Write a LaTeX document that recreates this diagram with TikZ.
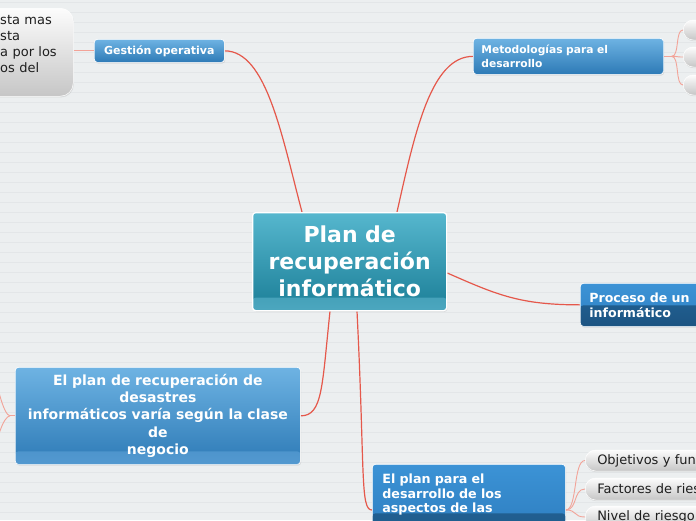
\documentclass[tikz,border=0pt]{standalone}
\usepackage{fontspec}
\setmainfont{DejaVu Sans}
\usetikzlibrary{calc,shadows}
\definecolor{bgc}{HTML}{ECEFF0}
\definecolor{bgl}{HTML}{E3E6E8}
\definecolor{conn}{HTML}{E5584B}
\definecolor{subc}{HTML}{F2A398}
\definecolor{tealtop}{HTML}{56B7CE}
\definecolor{tealbot}{HTML}{1B7E97}
\definecolor{tealband}{HTML}{4CA7BF}
\definecolor{bluetop}{HTML}{6EB3E3}
\definecolor{bluebot}{HTML}{2D7AB6}
\definecolor{blueband}{HTML}{5399D0}
\definecolor{brtop}{HTML}{3C93D6}
\definecolor{brmid}{HTML}{2F80C2}
\definecolor{drtop}{HTML}{24669A}
\definecolor{drbot}{HTML}{1C5482}
\definecolor{greytop}{HTML}{FCFCFC}
\definecolor{greybot}{HTML}{C6C6C6}
\definecolor{ink}{HTML}{1E1E1E}
\pgfdeclarelayer{back}
\pgfdeclarelayer{mid}
\pgfsetlayers{back,mid,main}
\begin{document}
\begin{tikzpicture}[x=1pt,y=-1pt,
  box/.style={draw=white, line width=0.7pt, rounded corners=3pt, anchor=north west,
    text=white, inner sep=0pt,
    drop shadow={opacity=0.18, shadow xshift=0.8pt, shadow yshift=-1.2pt}},
  bluebox/.style={box, top color=bluetop, bottom color=bluebot},
  glossbox/.style={box, top color=brtop, bottom color=brmid},
  greybox/.style={draw=white, line width=0.5pt, anchor=west, top color=greytop, bottom color=greybot,
    text=ink, inner sep=0pt,
    drop shadow={opacity=0.18, shadow xshift=0.6pt, shadow yshift=-1.2pt}},
  mainline/.style={conn, line width=1.2pt},
  subline/.style={subc, line width=0.9pt}]
\useasboundingbox (0,0) rectangle (696,520);
\begin{pgfonlayer}{back}
\fill[bgc] (0,0) rectangle (696,520);
\foreach \yy in {2,12,...,512} \draw[bgl, line width=0.6pt] (0,\yy) -- (696,\yy);
\end{pgfonlayer}

% central
\node[box, line width=1.3pt, minimum width=194pt, minimum height=98pt, text width=194pt, align=center,
  top color=tealtop, bottom color=tealbot,
  path picture={\shade[top color=tealbot, bottom color=tealband]
    ([yshift=13pt]path picture bounding box.south west) rectangle (path picture bounding box.south east);},
  font=\fontsize{22}{27}\selectfont\bfseries] (c) at (252,212) {Plan de~\\recuperación~\\informático};

% Gestion operativa
\node[bluebox, minimum width=130pt, minimum height=23pt, text width=130pt, align=center,
  font=\fontsize{11}{13}\selectfont\bfseries] (g) at (94,39) {Gestión operativa};

% grey box left (cut)
\node[greybox, rounded corners=13pt, anchor=north west, minimum width=143pt, minimum height=88pt,
  text width=143pt, align=left, font=\fontsize{13}{16}\selectfont] (gl) at (-70,8)
  {\leftskip=70pt sta mas\\sta\\a por los\\os del\\\mbox{}};

% Metodologias
\node[bluebox, minimum width=190pt, minimum height=36pt, text width=174pt, inner xsep=8pt, align=left,
  font=\fontsize{10.7}{13.4}\selectfont\bfseries] (m) at (473,38) {Metodologías para el\\desarrollo};

% circles at right
\node[greybox, rounded corners=10pt, minimum width=40pt, minimum height=20pt] (k1) at (683,30) {};
\node[greybox, rounded corners=10pt, minimum width=40pt, minimum height=20pt] (k2) at (683,57) {};
\node[greybox, rounded corners=10pt, minimum width=40pt, minimum height=20pt] (k3) at (683,85) {};

% Proceso
\node[glossbox, minimum width=140pt, minimum height=43pt, text width=122pt, inner xsep=9pt, align=left,
  path picture={\shade[top color=drtop, bottom color=drbot]
    ([yshift=-22pt]path picture bounding box.north west) rectangle (path picture bounding box.south east);},
  font=\fontsize{12.6}{15}\selectfont\bfseries] (p) at (580,283) {Proceso de un\\informático};

% El plan de recuperacion ...
\node[bluebox, minimum width=285pt, minimum height=97pt, text width=285pt, align=center,
  path picture={\shade[top color=bluebot, bottom color=blueband]
    ([yshift=13pt]path picture bounding box.south west) rectangle (path picture bounding box.south east);},
  font=\fontsize{14}{17.3}\selectfont\bfseries] (r) at (15,367)
  {El plan de recuperación de~\\desastres\\informáticos varía según la clase\\de\\negocio};

% El plan para el desarrollo ...
\node[glossbox, minimum width=193pt, text width=173pt, inner xsep=10pt, inner ysep=9.5pt, align=left,
  path picture={\shade[top color=drtop, bottom color=drbot]
    ([yshift=-49pt]path picture bounding box.north west) rectangle ([yshift=-60pt]path picture bounding box.south east);},
  font=\fontsize{12.7}{14.5}\selectfont\bfseries] (pp) at (372,464)
  {El plan para el\\desarrollo de los\\aspectos de las\\[8pt]};

% pills
\node[greybox, rounded corners=10.5pt, minimum width=140pt, minimum height=21pt, text width=128pt, inner xsep=12pt,
  align=left, font=\fontsize{13}{15}\selectfont] (o1) at (585,460.5) {Objetivos y fun};
\node[greybox, rounded corners=10.5pt, minimum width=140pt, minimum height=22pt, text width=128pt, inner xsep=12pt,
  align=left, font=\fontsize{13}{15}\selectfont] (o2) at (585,489) {Factores de ries};
\node[greybox, rounded corners=10.5pt, minimum width=140pt, minimum height=22pt, text width=128pt, inner xsep=12pt,
  align=left, font=\fontsize{13}{15}\selectfont] (o3) at (585,517) {Nivel de riesgo};

\coordinate (l1) at (-6,352);
\coordinate (l2) at (-6,470);

\begin{pgfonlayer}{mid}
\draw[mainline] ([xshift=50pt]c.north west) .. controls +(-20,-75) and +(42,0) .. (g.east);
\draw[mainline] ([xshift=145pt]c.north west) .. controls +(18,-80) and +(-42,0) .. (m.west);
\draw[mainline] ([yshift=-61pt]c.north east) .. controls +(50,22) and +(-60,0) .. (p.west);
\draw[mainline] ([xshift=78pt]c.south west) .. controls +(-8,75) and +(22,0) .. (r.east);
\draw[mainline] ([xshift=105pt]c.south west) .. controls +(8,160) and +(-12,0) .. ([yshift=-46pt]pp.north west);
\draw[subline] (g.west -| gl.east) -- (g.west);
\draw[subline] (m.east) -- ++(8,0) coordinate (mj);
\foreach \n in {k1,k2,k3} \draw[subline] (mj) .. controls +(8,0) and +(-8,0) .. (\n.west);
\coordinate (ppe) at ([yshift=-46pt]pp.north east);
\foreach \n in {o1,o2,o3} \draw[subline] (ppe) .. controls +(12,0) and +(-12,0) .. (\n.west);
\draw[subline] (r.west) -- ++(-5,0) coordinate (rj);
\draw[subline] (rj) .. controls +(-6,0) and +(0,30) .. (l1);
\draw[subline] (rj) .. controls +(-6,0) and +(0,-30) .. (l2);
\end{pgfonlayer}
\end{tikzpicture}
\end{document}
